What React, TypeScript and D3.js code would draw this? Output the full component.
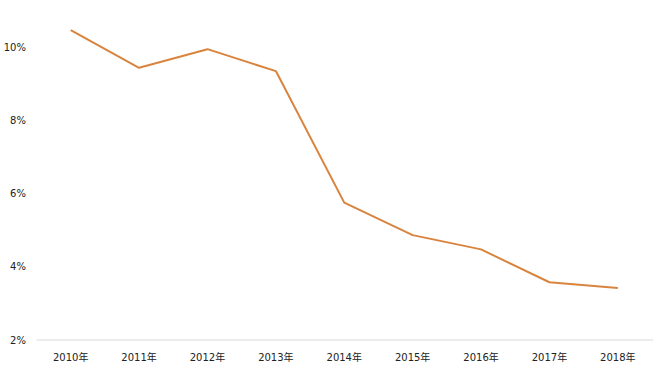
import React from 'react';
import * as d3 from 'd3';

const years = ['2010年', '2011年', '2012年', '2013年', '2014年', '2015年', '2016年', '2017年', '2018年'];
const rates = [10.48, 9.45, 9.96, 9.36, 5.76, 4.87, 4.48, 3.58, 3.42];
const yTicks = [2, 4, 6, 8, 10];

const App = () => {
  const width = 660;
  const height = 371;
  const margin = { top: 10, right: 8, bottom: 31, left: 36.5 };
  const font = "'DejaVu Sans', 'Noto Sans CJK JP', sans-serif";

  const x = d3.scaleBand()
    .domain(years)
    .range([margin.left, width - margin.right]);

  const y = d3.scaleLinear()
    .domain([2, 10])
    .range([340, 47.7]);

  const line = d3.line<number>()
    .x((d, i) => (x(years[i]) || 0) + x.bandwidth() / 2)
    .y(d => y(d));

  return (
    <svg width={width} height={height} style={{ position: 'absolute', left: 0, top: 0, background: '#fff' }}>
      <line x1={margin.left} x2={width - margin.right + 1} y1={y(2)} y2={y(2)} stroke="#d9d9d9" strokeWidth={1} />
      {yTicks.map(t => (
        <text key={t} x={26} y={y(t)} dy="0.35em" textAnchor="end" fontSize={10} fontFamily={font} fill="#222">
          {t}%
        </text>
      ))}
      {years.map(yr => (
        <text key={yr} x={(x(yr) || 0) + x.bandwidth() / 2} y={357} dy="0.35em" textAnchor="middle" fontSize={10} fontFamily={font} fill="#222">
          {yr}
        </text>
      ))}
      <path d={line(rates) || ''} fill="none" stroke="#d9843e" strokeWidth={2} strokeLinejoin="round" />
    </svg>
  );
};

export default App;
